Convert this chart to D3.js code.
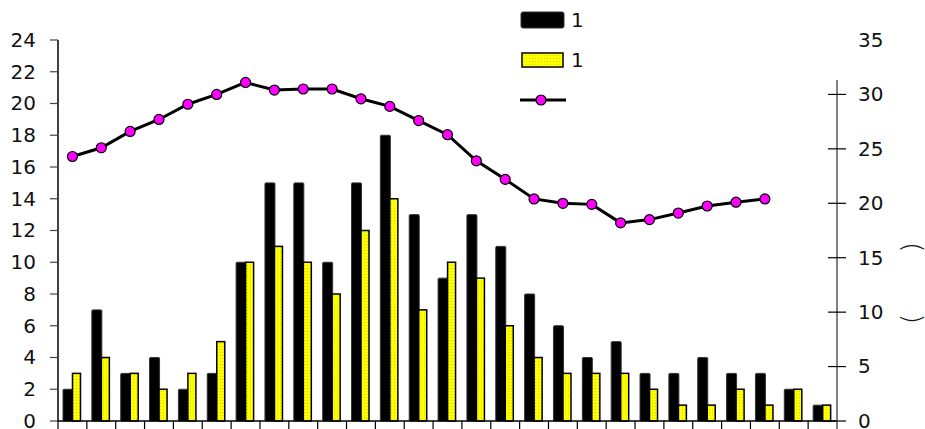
<!DOCTYPE html>
<html><head><meta charset="utf-8">
<script src="https://cdn.jsdelivr.net/npm/d3@7"></script>
<style>html,body{margin:0;padding:0;background:#fff;}svg{display:block;}</style>
</head><body>
<svg id="chart" width="925" height="429"></svg>
<script>
const categories = d3.range(1, 28).map(String);
const seriesBlack = [2,7,3,4,2,3,10,15,15,10,15,18,13,9,13,11,8,6,4,5,3,3,4,3,3,2,1];
const seriesYellow = [3,4,3,2,3,5,10,11,10,8,12,14,7,10,9,6,4,3,3,3,2,1,1,2,1,2,1];
const lineValues = [24.3,25.1,26.6,27.7,29.1,30.0,31.1,30.4,30.5,30.5,29.6,28.9,27.6,26.3,23.9,22.2,20.4,20.0,19.9,18.2,18.5,19.1,19.75,20.1,20.4];
const leftTicks = d3.range(0, 25, 2);
const rightTicks = [0,5,10,15,20,25,30];
const rightTopLabel = 35;
const legendLabels = ["1", "1", ""];
const rightTitle = "(\u2003\u2003\u2005)";

const FONT = "DejaVu Sans, Verdana, sans-serif";
const svg = d3.select("#chart");
const defs = svg.append("defs");
const pat = defs.append("pattern").attr("id","dots").attr("patternUnits","userSpaceOnUse")
  .attr("width",3).attr("height",3);
pat.append("rect").attr("width",3).attr("height",3).attr("fill","#ffff00");
pat.append("rect").attr("x",1).attr("y",1).attr("width",1).attr("height",1).attr("fill","#d8d800");

const x = d3.scaleBand().domain(categories).range([58, 837]).paddingInner(0).paddingOuter(0);
const yL = d3.scaleLinear().domain([0,24]).range([421,40]);
const yR = d3.scaleLinear().domain([0,35]).range([421,40]);
const bw = x.bandwidth();

// bars
const g = svg.append("g");
g.selectAll(".b1").data(seriesBlack).enter().append("rect")
  .attr("x",(d,i)=>x(categories[i])+5).attr("width",10)
  .attr("y",d=>yL(d)).attr("height",d=>yL(0)-yL(d))
  .attr("fill","#000").attr("stroke","#333").attr("stroke-width",1).attr("rx",1);
g.selectAll(".b2").data(seriesYellow).enter().append("rect")
  .attr("x",(d,i)=>x(categories[i])+14.5).attr("width",8)
  .attr("y",d=>yL(d)).attr("height",d=>yL(0)-yL(d))
  .attr("fill","url(#dots)").attr("stroke","#000").attr("stroke-width",1.5);

// left axis
svg.append("line").attr("x1",58).attr("x2",58).attr("y1",yL(24)).attr("y2",yL(0)).attr("stroke","#000").attr("stroke-width",1.5);
svg.selectAll(".lt").data(leftTicks).enter().append("line")
  .attr("x1",50).attr("x2",58).attr("y1",d=>yL(d)).attr("y2",d=>yL(d)).attr("stroke","#444").attr("stroke-width",1.2);
svg.selectAll(".ll").data(leftTicks).enter().append("text")
  .attr("x",36).attr("y",d=>yL(d)).attr("dy","0.34em").attr("text-anchor","end")
  .attr("font-family",FONT).attr("font-size",20).attr("fill","#111").text(d=>d);

// bottom axis
svg.append("line").attr("x1",58).attr("x2",837).attr("y1",421).attr("y2",421).attr("stroke","#000").attr("stroke-width",1.5);
svg.selectAll(".bt").data(categories).enter().append("line")
  .attr("x1",d=>x(d)).attr("x2",d=>x(d)).attr("y1",421).attr("y2",429).attr("stroke","#000").attr("stroke-width",1.2);

// right axis
svg.append("line").attr("x1",837).attr("x2",837).attr("y1",80).attr("y2",429).attr("stroke","#808080").attr("stroke-width",2);
svg.selectAll(".rt").data(rightTicks).enter().append("line")
  .attr("x1",828).attr("x2",846).attr("y1",d=>yR(d)).attr("y2",d=>yR(d)).attr("stroke","#000").attr("stroke-width",1.2);
svg.selectAll(".rl").data(rightTicks.concat([rightTopLabel])).enter().append("text")
  .attr("x",858).attr("y",d=>yR(d)).attr("dy","0.34em").attr("text-anchor","start")
  .attr("font-family",FONT).attr("font-size",20).attr("fill","#111").text(d=>d);

// right title (rotated)
svg.append("text").attr("transform","translate(904,283) rotate(90)").attr("text-anchor","middle")
  .attr("font-family",FONT).attr("font-size",27).attr("font-weight",300).attr("fill","#111").text(rightTitle);

// line
const cx = i => x(categories[i]) + bw/2;
svg.append("path").datum(lineValues)
  .attr("d", d3.line().x((d,i)=>cx(i)).y(d=>yR(d)))
  .attr("fill","none").attr("stroke","#000").attr("stroke-width",3);
svg.selectAll(".pt").data(lineValues).enter().append("circle")
  .attr("cx",(d,i)=>cx(i)).attr("cy",d=>yR(d)).attr("r",5)
  .attr("fill","#ff00ff").attr("stroke","#000").attr("stroke-width",1.2);

// legend
const lg = svg.append("g");
lg.append("rect").attr("x",521).attr("y",12).attr("width",43).attr("height",16).attr("rx",2)
  .attr("fill","#000").attr("stroke","#333");
lg.append("rect").attr("x",522).attr("y",53).attr("width",41).attr("height",14)
  .attr("fill","url(#dots)").attr("stroke","#000").attr("stroke-width",1.5);
lg.append("line").attr("x1",520).attr("x2",566).attr("y1",100).attr("y2",100).attr("stroke","#000").attr("stroke-width",3);
lg.append("circle").attr("cx",541).attr("cy",100).attr("r",5).attr("fill","#ff00ff").attr("stroke","#000").attr("stroke-width",1.2);
lg.selectAll(".lgt").data(legendLabels).enter().append("text")
  .attr("x",571).attr("y",(d,i)=>[20,60,100][i]).attr("dy","0.36em")
  .attr("font-family",FONT).attr("font-size",20).attr("fill","#111").text(d=>d);
</script>
</body></html>
